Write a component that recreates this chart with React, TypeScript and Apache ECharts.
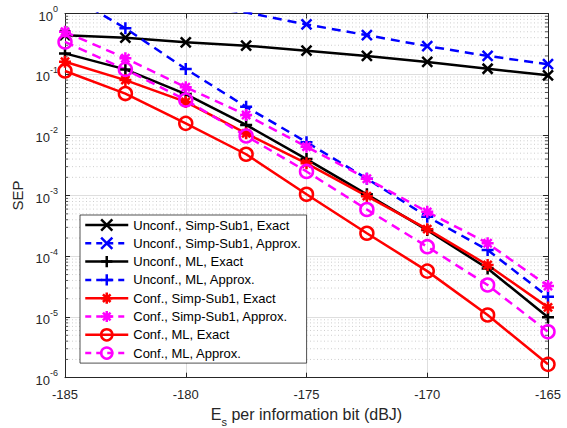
import React, { useEffect, useRef } from 'react';
import * as echarts from 'echarts';

// ---- data ----
const xValues = [-185, -182.5, -180, -177.5, -175, -172.5, -170, -167.5, -165];

const seriesNames = [
  'Unconf., Simp-Sub1, Exact',
  'Unconf., Simp-Sub1, Approx.',
  'Unconf., ML, Exact',
  'Unconf., ML, Approx.',
  'Conf., Simp-Sub1, Exact',
  'Conf., Simp-Sub1, Approx.',
  'Conf., ML, Exact',
  'Conf., ML, Approx.',
];

const unconfSimpExact = [0.44, 0.40, 0.335, 0.295, 0.244, 0.20, 0.159, 0.123, 0.096];
const unconfSimpApprox = [2.6, 1.8, 1.35, 1.04, 0.66, 0.44, 0.29, 0.20, 0.146];
const unconfMLExact = [0.22, 0.12, 0.047, 0.0146, 0.004, 0.00105, 0.00027, 6.3e-5, 9.9e-6];
const unconfMLApprox = [2.2, 0.57, 0.122, 0.029, 0.0076, 0.0019, 4.5e-4, 1.27e-4, 2.16e-5];
const confSimpExact = [0.16, 0.08, 0.035, 0.0106, 0.0034, 9.8e-4, 2.8e-4, 7.2e-5, 1.44e-5];
const confSimpApprox = [0.5, 0.183, 0.061, 0.0213, 0.0064, 0.0019, 5.4e-4, 1.64e-4, 3.24e-5];
const confMLExact = [0.113, 0.048, 0.0155, 0.0048, 0.00105, 2.4e-4, 5.7e-5, 1.08e-5, 1.66e-6];
const confMLApprox = [0.34, 0.12, 0.0376, 0.0096, 0.0025, 5.9e-4, 1.44e-4, 3.37e-5, 5.7e-6];

const xMin = -185;
const xMax = -165;
const xInterval = 5;
const yMin = 1e-6;
const yMax = 1;
const yDecadeExponents = [-6, -5, -4, -3, -2, -1];
const minorMultipliers = [2, 3, 4, 5, 6, 7, 8, 9];

// ---- styles ----
const SYM_X = 'path://M0,0L10,10M10,0L0,10';
const SYM_PLUS = 'path://M5,0L5,10M0,5L10,5';
const SYM_STAR = 'path://M5,0L5,10M0,5L10,5M1.6,1.6L8.4,8.4M8.4,1.6L1.6,8.4';
const SYM_O = 'circle';

const BLACK = '#000000';
const BLUE = '#0000ff';
const RED = '#ff0000';
const MAGENTA = '#ff00ff';
const AXIS = '#262626';
const DASH = [9, 6];
const LW = 2.5;
const FONT = '"Liberation Sans", Arial, Helvetica, sans-serif';

const seriesValues = [
  unconfSimpExact,
  unconfSimpApprox,
  unconfMLExact,
  unconfMLApprox,
  confSimpExact,
  confSimpApprox,
  confMLExact,
  confMLApprox,
];
const seriesColors = [BLACK, BLUE, BLACK, BLUE, RED, MAGENTA, RED, MAGENTA];
const seriesDashed = [false, true, false, true, false, true, false, true];
const seriesSymbols = [SYM_X, SYM_X, SYM_PLUS, SYM_PLUS, SYM_STAR, SYM_STAR, SYM_O, SYM_O];
const seriesSymbolSizes = [10, 10, 12, 12, 12, 12, 13, 13];

export default function App() {
  const ref = useRef<HTMLDivElement>(null);

  useEffect(() => {
    document.body.style.margin = '0';
    if (!ref.current) return;
    const chart = echarts.init(ref.current, undefined, { renderer: 'svg' });

    const minorTickValues: number[][] = [];
    yDecadeExponents.forEach((e) => {
      minorMultipliers.forEach((m) => {
        minorTickValues.push([xMin, m * Math.pow(10, e)]);
      });
    });

    const lineSeries = seriesNames.map((name, i) => ({
      name,
      type: 'line',
      data: xValues.map((x, j) => [x, seriesValues[i][j]]),
      symbol: seriesSymbols[i],
      symbolSize: seriesSymbolSizes[i],
      clip: true,
      lineStyle: {
        color: seriesColors[i],
        width: LW,
        type: seriesDashed[i] ? DASH : 'solid',
      },
      itemStyle: {
        color: 'rgba(0,0,0,0)',
        borderColor: seriesColors[i],
        borderWidth: LW,
      },
      emphasis: { disabled: true },
      z: 3,
    }));

    const legendData = seriesNames.map((name, i) => ({
      name,
      itemStyle: { color: 'rgba(0,0,0,0)', borderColor: seriesColors[i], borderWidth: LW },
      lineStyle: { color: seriesColors[i], width: LW, type: seriesDashed[i] ? [6, 5] : 'solid' },
    }));

    const yLabelFormatter = (v: number) => {
      const e = Math.round(Math.log10(v));
      return `{b|10}{s|${e}}`;
    };

    const option: any = {
      animation: false,
      backgroundColor: '#ffffff',
      textStyle: { fontFamily: FONT },
      grid: { left: 65, right: 19, top: 13.5, bottom: 50.3, outerBoundsMode: 'none' },
      legend: {
        orient: 'vertical',
        left: 80,
        top: 215,
        backgroundColor: '#ffffff',
        borderColor: AXIS,
        borderWidth: 0.8,
        borderRadius: 0,
        padding: [3, 5, 3, 4],
        itemWidth: 43,
        itemHeight: 14,
        itemGap: 4.3,
        selectedMode: false,
        textStyle: { fontSize: 13, color: '#000', fontFamily: FONT, lineHeight: 14 },
        data: legendData,
      },
      xAxis: [
        {
          type: 'value',
          min: xMin,
          max: xMax,
          interval: xInterval,
          position: 'bottom',
          axisLine: { show: true, onZero: false, lineStyle: { color: AXIS, width: 1 } },
          axisTick: { show: true, inside: true, length: 5, lineStyle: { color: AXIS } },
          axisLabel: { fontSize: 13, color: AXIS, margin: 10, fontFamily: FONT },
          splitLine: { show: true, lineStyle: { color: '#dedede', width: 1 } },
          name: '{a|E}{s|s}{a| per information bit (dBJ)}',
          nameLocation: 'middle',
          nameGap: 29,
          nameTextStyle: {
            rich: {
              a: { fontSize: 16, color: AXIS, fontFamily: FONT, lineHeight: 21, verticalAlign: 'top' },
              s: { fontSize: 11, color: AXIS, fontFamily: FONT, lineHeight: 21, verticalAlign: 'bottom' },
            },
          },
        },
        {
          type: 'value',
          min: xMin,
          max: xMax,
          interval: xInterval,
          position: 'top',
          axisLine: { show: true, onZero: false, lineStyle: { color: AXIS, width: 1 } },
          axisTick: { show: true, inside: true, length: 5, lineStyle: { color: AXIS } },
          axisLabel: { show: false },
          splitLine: { show: false },
        },
      ],
      yAxis: [
        {
          type: 'log',
          logBase: 10,
          min: yMin,
          max: yMax,
          splitNumber: 6,
          position: 'left',
          axisLine: { show: true, onZero: false, lineStyle: { color: AXIS, width: 1 } },
          axisTick: { show: true, inside: true, length: 5, lineStyle: { color: AXIS } },
          axisLabel: {
            margin: 7,
            formatter: yLabelFormatter,
            rich: {
              b: { fontSize: 13, color: AXIS, fontFamily: FONT, lineHeight: 18, verticalAlign: 'bottom' },
              s: { fontSize: 9, color: AXIS, fontFamily: FONT, lineHeight: 18, verticalAlign: 'top' },
            },
          },
          splitLine: { show: true, lineStyle: { color: '#dedede', width: 1 } },
          name: 'SEP',
          nameLocation: 'middle',
          nameGap: 38,
          nameTextStyle: { fontSize: 15, color: AXIS, fontFamily: FONT },
        },
        {
          type: 'log',
          logBase: 10,
          min: yMin,
          max: yMax,
          splitNumber: 6,
          position: 'right',
          axisLine: { show: true, onZero: false, lineStyle: { color: AXIS, width: 1 } },
          axisTick: { show: true, inside: true, length: 5, lineStyle: { color: AXIS } },
          axisLabel: { show: false },
          splitLine: { show: false },
        },
      ],
      series: [
        {
          type: 'custom',
          name: '__minor',
          xAxisIndex: 0,
          yAxisIndex: 0,
          silent: true,
          z: 1,
          data: minorTickValues,
          renderItem: (params: any, api: any) => {
            const cs = params.coordSys;
            const p = api.coord([api.value(0), api.value(1)]);
            const y = p[1];
            return {
              type: 'group',
              children: [
                {
                  type: 'line',
                  shape: { x1: cs.x, y1: y, x2: cs.x + cs.width, y2: y },
                  style: { stroke: '#b8b8b8', lineWidth: 0.7, lineDash: [1, 2.5] },
                },
                {
                  type: 'line',
                  shape: { x1: cs.x, y1: y, x2: cs.x + 3, y2: y },
                  style: { stroke: AXIS, lineWidth: 0.8 },
                },
                {
                  type: 'line',
                  shape: { x1: cs.x + cs.width - 3, y1: y, x2: cs.x + cs.width, y2: y },
                  style: { stroke: AXIS, lineWidth: 0.8 },
                },
              ],
            };
          },
        },
        ...lineSeries,
      ],
    };

    chart.setOption(option);
    return () => {
      chart.dispose();
    };
  }, []);

  return <div ref={ref} style={{ width: 567, height: 428 }} />;
}
